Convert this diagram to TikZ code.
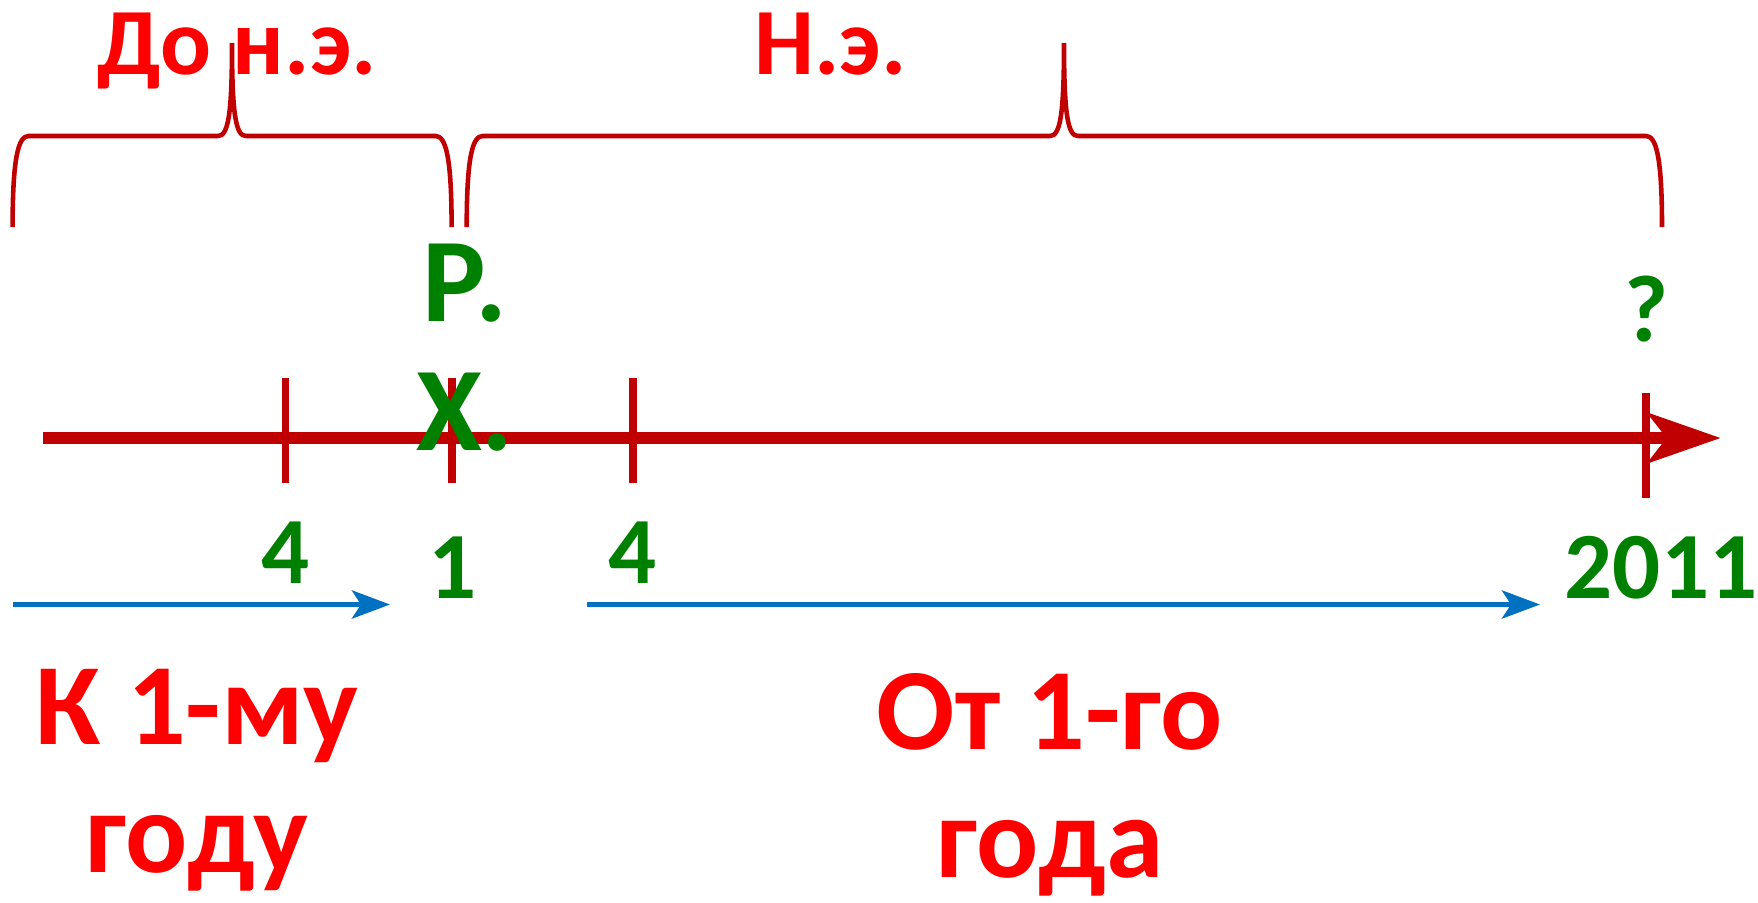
\documentclass[tikz,border=0pt]{standalone}
\usepackage{fontspec}
\setmainfont{Carlito}
\usetikzlibrary{arrows.meta, positioning}
\definecolor{axisred}{RGB}{192,0,0}
\definecolor{labelred}{RGB}{255,0,0}
\definecolor{yeargreen}{RGB}{0,128,0}
\definecolor{spanblue}{RGB}{0,112,192}

\begin{document}
\begin{tikzpicture}[>=Stealth,
     eralbl/.style={text=labelred,font=\bfseries\fontsize{27}{30}\selectfont,inner sep=0pt,anchor=base},
     countlbl/.style={text=labelred,font=\bfseries\fontsize{33}{36.4}\selectfont,inner sep=0pt,anchor=base,align=center},
     yearlbl/.style={text=yeargreen,font=\bfseries\fontsize{27}{30}\selectfont,inner sep=0pt,anchor=base},
     tickmark/.style={draw=axisred,line width=2.1pt},
     bracepath/.style={draw=axisred,line width=1.3pt},
     axisline/.style={draw=axisred,line width=3.4pt,-{Stealth[length=7.3mm,width=5mm,inset=1.9mm]}},
     spanarrow/.style={draw=spanblue,line width=1.6pt,-{Stealth[length=3.8mm,width=2.8mm,inset=0.9mm]}}]
    \useasboundingbox (0,0) rectangle (17.58,9.02);

    % braces over the two eras
    \draw[bracepath] (0.126,6.75) .. controls (0.126,7.46) and (0.186,7.66) .. (0.286,7.66) -- (2.18,7.66)
        .. controls (2.28,7.66) and (2.32,7.86) .. (2.32,8.59) .. controls (2.32,7.86) and (2.36,7.66) .. (2.46,7.66)
        -- (4.356,7.66) .. controls (4.456,7.66) and (4.516,7.46) .. (4.516,6.75);
    \draw[bracepath] (4.667,6.75) .. controls (4.667,7.46) and (4.727,7.66) .. (4.827,7.66) -- (10.50,7.66)
        .. controls (10.60,7.66) and (10.64,7.86) .. (10.64,8.59) .. controls (10.64,7.86) and (10.68,7.66) .. (10.78,7.66)
        -- (16.46,7.66) .. controls (16.56,7.66) and (16.62,7.46) .. (16.62,6.75);
    \node[eralbl] (bce) at (2.37,8.28) {До н.э.};
    \node[eralbl] (ce) at (8.305,8.28) {Н.э.};

    % time axis
    \coordinate (axisL) at (0.43,4.64);
    \coordinate (axisR) at (17.207,4.64);
    \draw[axisline] (axisL) -- (axisR);
    \draw[tickmark] (2.853,5.24) -- (2.853,4.19);
    \draw[tickmark] (4.52,5.24) -- (4.52,4.19);
    \draw[tickmark] (6.33,5.24) -- (6.33,4.19);
    \draw[tickmark] (16.46,5.09) -- (16.46,4.04);

    \node[yearlbl,align=center,font=\bfseries\fontsize{34}{36.5}\selectfont] (rx) at (4.65,4.52) {Р.\\Х.};
    \node[yearlbl] (q) at (16.465,5.603) {?};
    \node[yearlbl] (y4a) at (2.855,3.187) {4};
    \node[yearlbl] (y1) at (4.525,3.037) {1};
    \node[yearlbl] (y4b) at (6.326,3.187) {4};
    \node[yearlbl] (y2011) at (16.61,3.037) {2011};

    % counting directions
    \coordinate (toA) at (0.13,2.975);
    \coordinate (toB) at (3.90,2.975);
    \coordinate (fromA) at (5.87,2.975);
    \coordinate (fromB) at (15.40,2.975);
    \draw[spanarrow] (toA) -- (toB);
    \draw[spanarrow] (fromA) -- (fromB);
    \node[countlbl] (tofirst) at (1.97,0.30) {К 1-му\\году};
    \node[countlbl] (fromfirst) at (10.50,0.25) {От 1-го\\года};
  \end{tikzpicture}
\end{document}
